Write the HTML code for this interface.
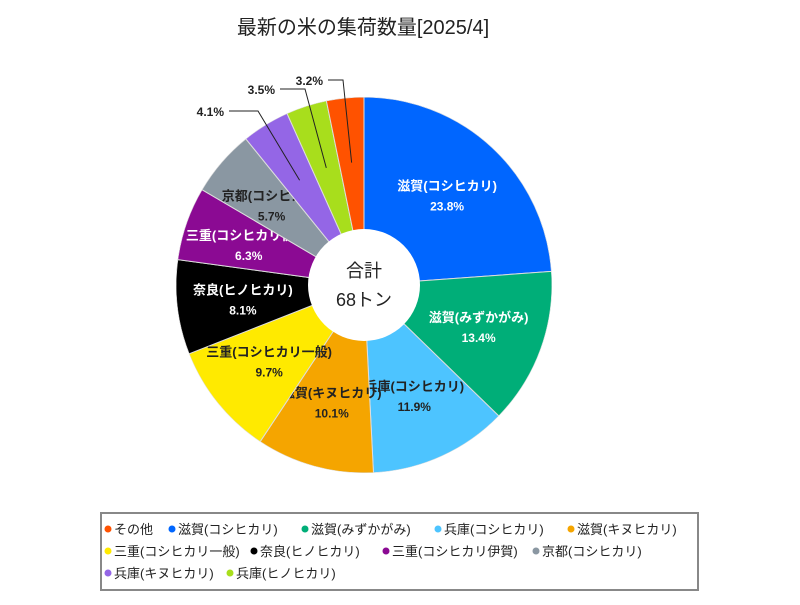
<!DOCTYPE html>
<html><head><meta charset="utf-8">
<style>
body{margin:0;background:#fff;}
svg text{font-family:"Liberation Sans","Noto Sans CJK JP",sans-serif;}
</style></head>
<body>
<svg width="800" height="600" viewBox="0 0 800 600" xmlns="http://www.w3.org/2000/svg">
<rect width="800" height="600" fill="#fff"/>
<text x="363" y="34" text-anchor="middle" font-size="20" fill="#222">最新の米の集荷数量[2025/4]</text>
<defs><clipPath id="pieclip"><circle cx="364" cy="285" r="188"/></clipPath></defs>
<g id="pie" clip-path="url(#pieclip)"></g>
<g id="ext"></g>
<circle cx="364" cy="285" r="56" fill="#fff"/>
<text x="364" y="277" text-anchor="middle" font-size="18" fill="#222">合計</text>
<text x="364" y="306" text-anchor="middle" font-size="18" fill="#222">68トン</text>
<rect x="101" y="513" width="597" height="77" fill="#fff" stroke="#888" stroke-width="2"/>
<g id="legend"></g>
</svg>
<script>
const categories=["滋賀(コシヒカリ)","滋賀(みずかがみ)","兵庫(コシヒカリ)","滋賀(キヌヒカリ)","三重(コシヒカリ一般)","奈良(ヒノヒカリ)","三重(コシヒカリ伊賀)","京都(コシヒカリ)","兵庫(キヌヒカリ)","兵庫(ヒノヒカリ)","その他"];
const values=[23.8,13.4,11.9,10.1,9.7,8.1,6.3,5.7,4.1,3.5,3.2];
const colors=["#0066ff","#00ae78","#4dc4ff","#f5a500","#ffea00","#000000","#8b0a93","#8a97a2","#9466e6","#a8de1c","#ff5200"];
const textColors=["#fff","#fff","#222","#222","#222","#fff","#fff","#222","#222","#222","#222"];
const legendOrder=["その他","滋賀(コシヒカリ)","滋賀(みずかがみ)","兵庫(コシヒカリ)","滋賀(キヌヒカリ)","三重(コシヒカリ一般)","奈良(ヒノヒカリ)","三重(コシヒカリ伊賀)","京都(コシヒカリ)","兵庫(キヌヒカリ)","兵庫(ヒノヒカリ)"];
const NS="http://www.w3.org/2000/svg";
const cx=364,cy=285,R=188;
const total=values.reduce((a,b)=>a+b,0);
function pt(a,r){return [cx+r*Math.sin(a),cy-r*Math.cos(a)];}
function mk(tag,attrs,parent){const e=document.createElementNS(NS,tag);for(const k in attrs)e.setAttribute(k,attrs[k]);parent.appendChild(e);return e;}
const pie=document.getElementById('pie'),ext=document.getElementById('ext');
let a0=0;
values.forEach((v,i)=>{
  const a1=a0+v/total*2*Math.PI;
  const p0=pt(a0,R),p1=pt(a1,R);
  const large=(a1-a0)>Math.PI?1:0;
  const path=mk('path',{d:`M${cx},${cy}L${p0[0]},${p0[1]}A${R},${R} 0 ${large} 1 ${p1[0]},${p1[1]}Z`,fill:colors[i],stroke:'#ddd','stroke-width':1},pie);
  
  
  const mid=(a0+a1)/2;
  if(v>=5){
    const m=pt(mid,122);
    const t1=mk('text',{x:m[0],y:m[1]-5,'text-anchor':'middle','font-size':13,'font-weight':'bold',fill:textColors[i]},pie);
    t1.textContent=categories[i];
    
    
    const t2=mk('text',{x:m[0],y:m[1]+15,'text-anchor':'middle','font-size':12,'font-weight':'bold',fill:textColors[i]},pie);
    t2.textContent=v.toFixed(1)+'%';
    
    
  }else{
    const m=pt(mid,R-65);
    const k=i-8;
    const ly=111-k*(i===10?15.5:22)+(i===10?-0:0);
    const lyy=[111,89,80][k];
    const lx=[229,280,328][k],lx2=[258,305,343][k];
    const line=mk('polyline',{points:`${lx},${lyy} ${lx2},${lyy} ${m[0]},${m[1]}`,fill:'none',stroke:'#222','stroke-width':1},ext);
    
    
    const t=mk('text',{x:lx-5,y:lyy+5,'text-anchor':'end','font-size':12,'font-weight':'bold',fill:'#222'},ext);
    t.textContent=v.toFixed(1)+'%';
    
    
  }
  a0=a1;
});
const lg=document.getElementById('legend');
const rows=[[0,1,2,3,4],[5,6,7,8],[9,10]];
const rowX=[[104,168,301,434,567],[104,250,382,532],[104,226]];
rows.forEach((row,ri)=>{
  row.forEach((li,j)=>{
    const name=legendOrder[li];
    const ci=categories.indexOf(name);
    const x=rowX[ri][j],y=529+ri*22;
    const g=mk('g',{},lg);
    
    
    mk('circle',{cx:x+4,cy:y,r:3.5,fill:colors[ci]},g);
    const t=mk('text',{x:x+10,y:y+5,'font-size':13,fill:'#222'},g);
    t.textContent=name;
  });
});
</script>
</body></html>
